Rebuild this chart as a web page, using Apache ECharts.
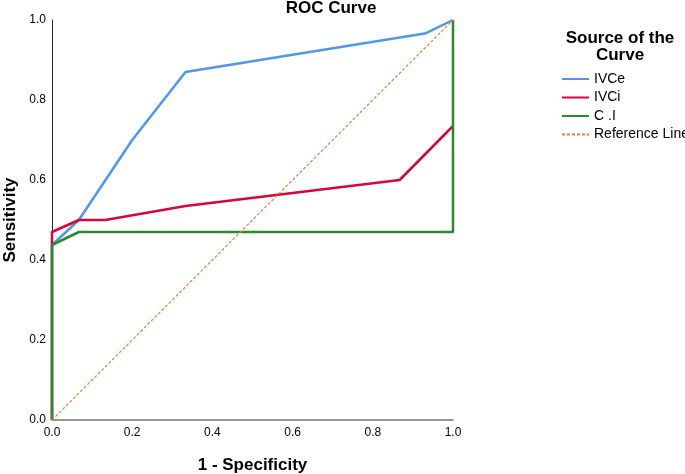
<!DOCTYPE html>
<html>
<head>
<meta charset="utf-8">
<script src="https://cdn.jsdelivr.net/npm/echarts@6/dist/echarts.min.js"></script>
<style>
html,body{margin:0;padding:0;background:#fff;}
#chart{width:685px;height:474px;}
</style>
</head>
<body>
<div id="chart"></div>
<script>
// Data
var xTicks = [0.0, 0.2, 0.4, 0.6, 0.8, 1.0];
var seriesNames = ['IVCe', 'IVCi', 'C .I', 'Reference Line'];
var ivceFpr = [0, 0, 0.067, 0.2, 0.333, 0.933, 1];
var ivceTpr = [0, 0.4375, 0.5, 0.70, 0.87, 0.967, 1];
var ivciFpr = [0, 0, 0, 0.067, 0.133, 0.333, 0.867, 1];
var ivciTpr = [0, 0.4375, 0.47, 0.5, 0.5, 0.535, 0.60, 0.735];
var ciFpr = [0, 0, 0.067, 1, 1];
var ciTpr = [0, 0.4375, 0.47, 0.47, 1];
var refFpr = [0, 1];
var refTpr = [0, 1];

function pairs(xs, ys) {
  return xs.map(function (x, i) { return [x, ys[i]]; });
}

var font = "'Liberation Sans', Arial, sans-serif";
var chart = echarts.init(document.getElementById('chart'), null, {renderer: 'canvas'});

var option = {
  animation: false,
  backgroundColor: '#ffffff',
  grid: {left: 52, right: 232, top: 20, bottom: 54, containLabel: false, outerBoundsMode: 'none'},
  xAxis: {
    type: 'value', min: 0, max: 1, interval: 0.2,
    name: '1 - Specificity', nameLocation: 'middle', nameGap: 37,
    nameTextStyle: {fontFamily: font, fontSize: 17, fontWeight: 'bold', color: '#000'},
    axisLine: {show: true, lineStyle: {color: '#777', width: 1.5}},
    axisTick: {show: false},
    splitLine: {show: false},
    axisLabel: {fontFamily: font, fontSize: 12, color: '#000', margin: 7,
      formatter: function (v) { return v.toFixed(1); }}
  },
  yAxis: {
    type: 'value', min: 0, max: 1, interval: 0.2,
    name: 'Sensitivity', nameLocation: 'middle', nameGap: 33, nameRotate: 90,
    nameTextStyle: {fontFamily: font, fontSize: 17, fontWeight: 'bold', color: '#000'},
    axisLine: {show: true, lineStyle: {color: '#222', width: 1}},
    axisTick: {show: false},
    splitLine: {show: false},
    axisLabel: {fontFamily: font, fontSize: 12, color: '#000', margin: 6,
      formatter: function (v) { return v.toFixed(1); }}
  },
  legend: {
    orient: 'vertical', left: 556, top: 67,
    itemWidth: 27, itemHeight: 14, itemGap: 4.5,
    data: seriesNames,
    itemStyle: {opacity: 0},
    textStyle: {fontFamily: font, fontSize: 14, color: '#000'},
    selectedMode: false
  },
  graphic: [
    {type: 'text', x: 331, y: 16.5,
      style: {text: 'ROC Curve', font: 'bold 17px ' + font, fill: '#000',
        textAlign: 'center', textVerticalAlign: 'bottom'}},
    {type: 'text', x: 620, y: 46.5,
      style: {text: 'Source of the', font: 'bold 17px ' + font, fill: '#000',
        textAlign: 'center', textVerticalAlign: 'bottom'}},
    {type: 'text', x: 620, y: 63.5,
      style: {text: 'Curve', font: 'bold 17px ' + font, fill: '#000',
        textAlign: 'center', textVerticalAlign: 'bottom'}}
  ],
  series: [
    {name: seriesNames[0], type: 'line', data: pairs(ivceFpr, ivceTpr), symbol: 'none', clip: false, z: 3,
      lineStyle: {color: '#4F97E8', width: 2.5}, itemStyle: {color: '#4F97E8'}},
    {name: seriesNames[1], type: 'line', data: pairs(ivciFpr, ivciTpr), symbol: 'none', clip: false, z: 4,
      lineStyle: {color: '#D9043D', width: 2.5}, itemStyle: {color: '#D9043D'}},
    {name: seriesNames[2], type: 'line', data: pairs(ciFpr, ciTpr), symbol: 'none', clip: false, z: 5,
      lineStyle: {color: '#2B8A2B', width: 2.5}, itemStyle: {color: '#2B8A2B'}},
    {name: seriesNames[3], type: 'line', data: pairs(refFpr, refTpr), symbol: 'none', clip: false, z: 6,
      lineStyle: {color: '#F47A3A', width: 1.2, type: [3, 2]}, itemStyle: {color: '#F47A3A'}}
  ]
};
chart.setOption(option);
</script>
</body>
</html>
